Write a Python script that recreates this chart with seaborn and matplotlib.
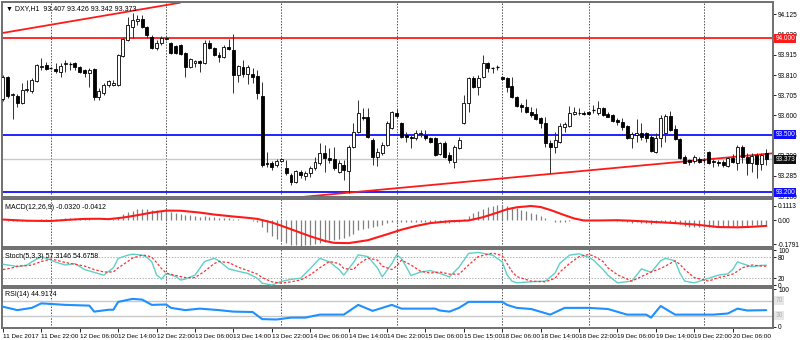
import matplotlib
matplotlib.use("Agg")
import matplotlib.pyplot as plt
from matplotlib.patches import Rectangle
import seaborn as sns

sns.set_theme(style="white")
plt.rcParams['font.family'] = ['Liberation Sans', 'DejaVu Sans']

# ---- DXY H1 candles (open, high, low, close) ----
opens = [93.685, 93.800, 93.706, 93.701, 93.664, 93.732, 93.727, 93.779, 93.852, 93.862,
         93.846, 93.841, 93.826, 93.867, 93.867, 93.872, 93.852, 93.836, 93.820, 93.841,
         93.696, 93.716, 93.758, 93.758, 93.758, 93.909, 93.992, 94.060, 94.091, 94.101,
         94.060, 94.008, 93.950, 93.976, 93.997, 93.976, 93.961, 93.966, 93.924, 93.852,
         93.872, 93.883, 93.872, 93.976, 93.950, 93.914, 93.904, 93.956, 93.940, 93.810,
         93.852, 93.815, 93.815, 93.805, 93.701, 93.350, 93.352, 93.342, 93.365, 93.326,
         93.290, 93.254, 93.306, 93.285, 93.300, 93.326, 93.352, 93.404, 93.378, 93.373,
         93.306, 93.342, 93.311, 93.436, 93.514, 93.592, 93.592, 93.472, 93.384, 93.404,
         93.446, 93.534, 93.612, 93.560, 93.498, 93.488, 93.482, 93.503, 93.498, 93.482,
         93.482, 93.399, 93.456, 93.394, 93.358, 93.430, 93.560, 93.664, 93.794, 93.748,
         93.800, 93.872, 93.846, 93.852, 93.800, 93.794, 93.753, 93.696, 93.654, 93.644,
         93.618, 93.607, 93.586, 93.560, 93.456, 93.436, 93.462, 93.540, 93.545, 93.607,
         93.612, 93.612, 93.618, 93.628, 93.612, 93.638, 93.607, 93.602, 93.576, 93.566,
         93.545, 93.482, 93.498, 93.508, 93.508, 93.488, 93.410, 93.482, 93.508, 93.597,
         93.529, 93.477, 93.384, 93.368, 93.363, 93.373, 93.368, 93.410, 93.363, 93.358,
         93.358, 93.337, 93.378, 93.352, 93.436, 93.384, 93.352, 93.394, 93.347, 93.407]
highs = [93.810, 93.805, 93.716, 93.711, 93.768, 93.784, 93.794, 93.867, 93.898, 93.878,
         93.852, 93.872, 93.872, 93.888, 93.878, 93.878, 93.857, 93.841, 93.846, 93.846,
         93.742, 93.768, 93.784, 93.784, 93.918, 94.000, 94.112, 94.132, 94.122, 94.122,
         94.065, 94.018, 93.992, 94.013, 94.008, 93.982, 93.966, 93.971, 93.930, 93.898,
         93.888, 93.888, 93.992, 93.992, 93.956, 93.930, 93.966, 93.997, 94.023, 93.862,
         93.888, 93.862, 93.846, 93.836, 93.774, 93.410, 93.363, 93.373, 93.378, 93.368,
         93.300, 93.316, 93.316, 93.311, 93.337, 93.384, 93.456, 93.446, 93.430, 93.436,
         93.368, 93.368, 93.446, 93.560, 93.680, 93.638, 93.638, 93.482, 93.430, 93.462,
         93.571, 93.623, 93.633, 93.566, 93.514, 93.498, 93.524, 93.524, 93.524, 93.488,
         93.488, 93.462, 93.467, 93.410, 93.446, 93.488, 93.706, 93.800, 93.805, 93.810,
         93.914, 93.878, 93.852, 93.862, 93.805, 93.800, 93.800, 93.701, 93.664, 93.685,
         93.644, 93.638, 93.592, 93.592, 93.472, 93.514, 93.560, 93.566, 93.649, 93.644,
         93.638, 93.623, 93.623, 93.654, 93.675, 93.644, 93.618, 93.607, 93.586, 93.586,
         93.550, 93.514, 93.581, 93.560, 93.514, 93.498, 93.508, 93.602, 93.607, 93.623,
         93.550, 93.482, 93.394, 93.373, 93.394, 93.384, 93.378, 93.415, 93.373, 93.368,
         93.368, 93.384, 93.399, 93.446, 93.446, 93.404, 93.404, 93.404, 93.404, 93.426]
lows = [93.675, 93.690, 93.581, 93.644, 93.659, 93.722, 93.716, 93.774, 93.836, 93.836,
        93.841, 93.820, 93.800, 93.826, 93.836, 93.836, 93.820, 93.800, 93.748, 93.680,
        93.680, 93.706, 93.748, 93.753, 93.753, 93.904, 93.988, 94.002, 94.070, 94.054,
        94.002, 93.946, 93.940, 93.966, 93.992, 93.920, 93.920, 93.914, 93.800, 93.846,
        93.852, 93.826, 93.867, 93.945, 93.909, 93.878, 93.898, 93.940, 93.716, 93.774,
        93.800, 93.763, 93.768, 93.685, 93.332, 93.332, 93.316, 93.332, 93.358, 93.290,
        93.238, 93.248, 93.274, 93.264, 93.280, 93.316, 93.342, 93.306, 93.352, 93.316,
        93.300, 93.264, 93.196, 93.430, 93.508, 93.576, 93.482, 93.342, 93.337, 93.394,
        93.441, 93.529, 93.586, 93.482, 93.462, 93.430, 93.472, 93.488, 93.472, 93.456,
        93.389, 93.394, 93.378, 93.352, 93.326, 93.425, 93.555, 93.618, 93.742, 93.706,
        93.794, 93.826, 93.820, 93.836, 93.784, 93.722, 93.690, 93.644, 93.618, 93.612,
        93.592, 93.576, 93.534, 93.436, 93.300, 93.404, 93.456, 93.514, 93.540, 93.602,
        93.602, 93.602, 93.602, 93.612, 93.602, 93.597, 93.590, 93.568, 93.550, 93.524,
        93.477, 93.430, 93.462, 93.472, 93.462, 93.410, 93.404, 93.436, 93.462, 93.519,
        93.472, 93.373, 93.350, 93.342, 93.352, 93.352, 93.352, 93.348, 93.332, 93.337,
        93.332, 93.332, 93.352, 93.316, 93.352, 93.290, 93.306, 93.274, 93.316, 93.342]
closes = [93.800, 93.701, 93.711, 93.664, 93.732, 93.737, 93.784, 93.862, 93.857, 93.841,
          93.845, 93.831, 93.857, 93.872, 93.866, 93.852, 93.826, 93.820, 93.836, 93.696,
          93.727, 93.758, 93.779, 93.768, 93.914, 93.997, 94.070, 94.096, 94.101, 94.060,
          94.018, 93.950, 93.976, 94.002, 94.000, 93.924, 93.925, 93.919, 93.852, 93.893,
          93.883, 93.872, 93.976, 93.950, 93.914, 93.904, 93.956, 93.945, 93.810, 93.857,
          93.815, 93.852, 93.800, 93.716, 93.342, 93.345, 93.332, 93.363, 93.371, 93.300,
          93.254, 93.311, 93.290, 93.300, 93.326, 93.358, 93.404, 93.378, 93.368, 93.326,
          93.352, 93.316, 93.436, 93.514, 93.612, 93.586, 93.488, 93.384, 93.410, 93.446,
          93.560, 93.618, 93.597, 93.488, 93.488, 93.482, 93.508, 93.508, 93.482, 93.462,
          93.394, 93.456, 93.384, 93.368, 93.436, 93.472, 93.664, 93.794, 93.748, 93.794,
          93.872, 93.846, 93.845, 93.853, 93.789, 93.748, 93.696, 93.649, 93.644, 93.618,
          93.602, 93.581, 93.560, 93.456, 93.436, 93.472, 93.545, 93.555, 93.612, 93.618,
          93.615, 93.607, 93.607, 93.627, 93.638, 93.602, 93.592, 93.571, 93.566, 93.540,
          93.482, 93.503, 93.508, 93.488, 93.482, 93.415, 93.482, 93.586, 93.597, 93.524,
          93.477, 93.378, 93.352, 93.358, 93.384, 93.358, 93.367, 93.352, 93.358, 93.352,
          93.342, 93.378, 93.358, 93.436, 93.384, 93.352, 93.389, 93.347, 93.394, 93.373]

# ---- MACD(12,26,9): histogram per bar, signal line ----
macd_hist = [0.000, -0.002, -0.004, -0.005, -0.004, -0.002, 0.002, 0.004, 0.008, 0.010,
             0.012, 0.012, 0.014, 0.016, 0.018, 0.018, 0.017, 0.015, 0.012, 0.006,
             0.003, 0.003, 0.005, 0.012, 0.030, 0.048, 0.062, 0.075, 0.084, 0.088,
             0.086, 0.082, 0.078, 0.074, 0.068, 0.062, 0.056, 0.050, 0.042, 0.038,
             0.034, 0.030, 0.032, 0.030, 0.026, 0.022, 0.022, 0.020, 0.010, 0.008,
             0.004, 0.002, -0.002, -0.010, -0.050, -0.085, -0.115, -0.140, -0.158, -0.172,
             -0.185, -0.190, -0.192, -0.190, -0.186, -0.180, -0.170, -0.160, -0.152, -0.146,
             -0.140, -0.134, -0.120, -0.100, -0.075, -0.062, -0.055, -0.052, -0.045, -0.035,
             -0.022, -0.010, -0.008, -0.010, -0.012, -0.012, -0.010, -0.008, -0.008, -0.010,
             -0.014, -0.014, -0.016, -0.018, -0.014, -0.010, 0.010, 0.035, 0.055, 0.072,
             0.090, 0.105, 0.112, 0.120, 0.118, 0.112, 0.102, 0.092, 0.082, 0.070,
             0.058, 0.046, 0.032, 0.016, 0.000, -0.008, -0.010, -0.008, -0.004, 0.000,
             0.002, 0.004, 0.004, 0.006, 0.006, 0.005, 0.003, 0.001, -0.002, -0.006,
             -0.012, -0.016, -0.015, -0.016, -0.018, -0.024, -0.022, -0.014, -0.010, -0.012,
             -0.018, -0.030, -0.040, -0.046, -0.048, -0.050, -0.050, -0.052, -0.052, -0.053,
             -0.053, -0.052, -0.050, -0.044, -0.042, -0.041, -0.038, -0.036, -0.033, -0.032]
signal_bar = [0, 5, 10, 14, 17, 20, 22, 25, 28, 31, 34, 37, 41, 44, 48, 51, 53, 56, 58, 61,
              64, 67, 69, 72, 76, 80, 83, 86, 89, 93, 97, 100, 103, 105, 107, 110, 112, 114,
              117, 119, 121, 124, 128, 131, 135, 140, 144, 149, 153, 156, 159]
signal_val = [0.007, -0.002, -0.004, 0.006, 0.012, 0.013, 0.010, 0.022, 0.040, 0.060,
              0.075, 0.074, 0.060, 0.045, 0.030, 0.020, 0.012, -0.015, -0.040, -0.080,
              -0.120, -0.155, -0.170, -0.172, -0.150, -0.105, -0.070, -0.042, -0.020, -0.006,
              0.000, 0.025, 0.060, 0.085, 0.100, 0.110, 0.102, 0.080, 0.040, 0.015,
              0.000, 0.000, 0.002, -0.002, -0.010, -0.020, -0.030, -0.050, -0.052, -0.048,
              -0.0412]

# ---- Stochastic(5,3,3) ----
stoch_bar = [0, 2, 3, 5, 6, 8, 10, 11, 13, 15, 17, 19, 21, 23, 24, 26, 27, 29, 30, 31,
             32, 33, 34, 36, 37, 38, 40, 42, 44, 45, 47, 49, 51, 53, 54, 56, 58, 60, 62,
             64, 66, 68, 70, 71, 73, 74, 76, 78, 79, 81, 82, 83, 85, 87, 89, 91, 93, 95,
             97, 99, 102, 104, 105, 106, 107, 110, 113, 115, 116, 118, 120, 122, 123, 125,
             126, 128, 131, 133, 135, 137, 138, 140, 141, 142, 144, 147, 149, 151, 152,
             153, 154, 156, 158, 159]
stoch_main = [60, 56, 53, 58, 67, 82, 72, 66, 58, 62, 45, 37, 29, 50, 77, 86, 89, 86, 80, 67,
              30, 18, 34, 25, 15, 18, 29, 68, 77, 70, 47, 40, 34, 20, 6, 1, 11, 17, 20,
              48, 77, 67, 45, 29, 65, 87, 82, 50, 24, 62, 87, 77, 28, 38, 42, 34, 24, 52,
              91, 94, 86, 67, 30, 12, 7, 10, 12, 35, 63, 86, 90, 80, 72, 45,
              29, 7, 12, 47, 37, 70, 77, 70, 35, 12, 7, 20, 29, 33, 45,
              67, 62, 53, 57, 57.3]
stoch_signal = [45, 50, 55, 56, 58, 68, 75, 72, 65, 60, 55, 45, 38, 38, 50, 68, 78, 86, 85, 80,
                65, 48, 35, 28, 25, 22, 22, 40, 62, 68, 65, 52, 42, 32, 22, 10, 6, 10, 15,
                30, 50, 68, 62, 48, 45, 60, 78, 72, 55, 45, 55, 72, 58, 40, 35, 38, 32, 32,
                58, 82, 92, 85, 62, 40, 25, 12, 10, 20, 38, 62, 82, 88, 84, 68,
                50, 30, 12, 25, 38, 48, 55, 70, 60, 45, 22, 12, 22, 28, 32,
                40, 50, 58, 55, 54.7]

# ---- RSI(14) ----
rsi_bar = [0, 3, 6, 8, 13, 18, 19, 22, 23, 24, 27, 29, 31, 34, 35, 38, 41, 45, 48, 52, 54,
           57, 60, 63, 66, 71, 74, 77, 81, 83, 90, 91, 93, 95, 97, 104, 105, 107, 110, 114,
           117, 122, 126, 130, 134, 135, 137, 140, 148, 151, 153, 155, 159]
rsi_val = [54, 45, 51, 63, 59, 57, 41, 46, 46, 67, 75, 73, 59, 60, 51, 45, 49, 45, 41, 40, 21,
           20, 25, 25, 33, 33, 59, 43, 59, 49, 49, 44, 41, 51, 67, 67, 59, 51, 48, 33,
           51, 51, 48, 33, 33, 25, 56, 33, 33, 36, 49, 44, 44.9]

# ---- axis text ----
time_labels = ["11 Dec 2017", "11 Dec 22:00", "12 Dec 06:00", "12 Dec 14:00", "12 Dec 22:00",
               "13 Dec 06:00", "13 Dec 14:00", "13 Dec 22:00", "14 Dec 06:00", "14 Dec 14:00",
               "14 Dec 22:00", "15 Dec 06:00", "15 Dec 15:00", "18 Dec 06:00", "18 Dec 14:00",
               "18 Dec 22:00", "19 Dec 06:00", "19 Dec 14:00", "19 Dec 22:00", "20 Dec 06:00"]
time_label_bars = list(range(0, 160, 8))
day_breaks = [10, 34, 58, 82, 104, 122, 146]
price_ticks = [94.125, 94.020, 93.915, 93.810, 93.705, 93.600, 93.495, 93.390, 93.285, 93.180]

# horizontal levels and trend lines
resistance = 94.000
support_levels = [93.500, 93.200]
bid = 93.373
upper_trend_bars = [-0.2, 36.9]
upper_trend_vals = [94.028, 94.186]
lower_trend_bars = [57.7, 160.4]
lower_trend_vals = [93.165, 93.403]

W, H = 800, 340
fig = plt.figure(figsize=(W / 100, H / 100), dpi=100, facecolor="white")


def box(x0, y0, x1, y1):
    return [x0 / W, 1 - y1 / H, (x1 - x0) / W, (y1 - y0) / H]


XL = (-0.2, 160.4)
FS = 4.7
frame = "#707070"
grid_kw = dict(color="#505050", lw=0.7, ls=(0, (1.5, 1.5)), zorder=1)


def style(ax):
    ax.set_xlim(*XL)
    ax.set_facecolor("white")
    for s in ax.spines.values():
        s.set_color(frame)
        s.set_linewidth(1.4)
    ax.yaxis.tick_right()
    ax.tick_params(axis="y", which="both", length=2.5, width=0.6, pad=1.2,
                   labelsize=FS, colors="black", right=True, left=False)
    ax.tick_params(axis="x", bottom=False, labelbottom=False)
    for b in day_breaks:
        ax.axvline(b, **grid_kw)


def flag(ax, y, text, fc, tc="white"):
    ax.text(1.003, y, text, transform=ax.get_yaxis_transform(), ha="left", va="center",
            fontsize=FS, color=tc, clip_on=False, zorder=20,
            bbox=dict(boxstyle="square,pad=0.15", fc=fc, ec="none"))


# ---------------- price panel ----------------
ax = fig.add_axes(box(2, 2, 773, 197))
style(ax)
ax.set_ylim(93.1756, 94.1896)
ax.set_yticks(price_ticks)
ax.set_yticklabels([f"{v:.3f}" for v in price_ticks])

ax.axhline(bid, color="#c8c8c8", lw=1.0, zorder=1)
ax.axhline(resistance, color="#ff1a1a", lw=1.3, zorder=2)
for lv in support_levels:
    ax.axhline(lv, color="#1010ff", lw=1.3, zorder=2)
ax.plot(upper_trend_bars, upper_trend_vals, color="#ff1a1a", lw=1.3, zorder=2)
ax.plot(lower_trend_bars, lower_trend_vals, color="#ff1a1a", lw=1.3, zorder=2)

bw = 0.62
for i, (o, h, l, c) in enumerate(zip(opens, highs, lows, closes)):
    ax.vlines(i, l, h, color="#303030", lw=0.7, zorder=3)
    lo, hi = min(o, c), max(o, c)
    if hi - lo < 0.0015:
        ax.hlines((o + c) / 2, i - bw / 2, i + bw / 2, color="black", lw=0.9, zorder=4)
    else:
        ax.add_patch(Rectangle((i - bw / 2, lo), bw, hi - lo,
                               facecolor="white" if c >= o else "black",
                               edgecolor="black", lw=0.6, zorder=4))

ax.text(0.005, 0.985, "\u25bc DXY,H1  93.407 93.426 93.342 93.373", transform=ax.transAxes,
        ha="left", va="top", fontsize=5, color="black", zorder=20)
flag(ax, resistance, "94.000", "#ff1a1a")
flag(ax, support_levels[0], "93.500", "#1010ff")
flag(ax, support_levels[1], "93.200", "#1010ff")
flag(ax, bid, "93.373", "#101010")

# ---------------- MACD panel ----------------
axm = fig.add_axes(box(2, 199, 773, 247))
style(axm)
axm.set_ylim(-0.2014, 0.163)
axm.set_yticks([0.1113, 0.0, -0.1791])
axm.set_yticklabels(["0.1113", "0.00", "-0.1791"])
axm.vlines(range(len(macd_hist)), 0, macd_hist, color="#808080", lw=0.9, zorder=2)
sns.lineplot(x=signal_bar, y=signal_val, ax=axm, color="#ff1a1a", lw=1.5, zorder=3,
             estimator=None)
axm.set_xlabel("")
axm.set_ylabel("")
axm.text(0.004, 0.9, "MACD(12,26,9) -0.0320 -0.0412", transform=axm.transAxes,
         ha="left", va="top", fontsize=5, color="black")

# ---------------- Stochastic panel ----------------
axs = fig.add_axes(box(2, 249, 773, 286))
style(axs)
axs.set_ylim(-2, 103.7)
axs.set_yticks([100, 80, 20, 0])
axs.set_yticklabels(["100", "80", "20", "0"])
for lv in (80, 20):
    axs.axhline(lv, color="#b0b0b0", lw=0.7, ls=(0, (1.5, 1.5)), zorder=1)
sns.lineplot(x=stoch_bar, y=stoch_main, ax=axs, color="#5fd0c8", lw=1.0, zorder=3,
             estimator=None)
sns.lineplot(x=stoch_bar, y=stoch_signal, ax=axs, color="#ff3030", lw=0.9, zorder=3,
             estimator=None, linestyle=(0, (2, 1.5)))
axs.set_xlabel("")
axs.set_ylabel("")
axs.text(0.004, 0.9, "Stoch(5,3,3) 57.3146 54.6758", transform=axs.transAxes,
         ha="left", va="top", fontsize=5, color="black", zorder=20)

# ---------------- RSI panel ----------------
axr = fig.add_axes(box(2, 288, 773, 328))
style(axr)
axr.set_ylim(-2.7, 104)
axr.set_yticks([100, 0])
axr.set_yticklabels(["100", "0"])
for lv in (70, 30):
    axr.axhline(lv, color="#c8c8c8", lw=1.0, zorder=1)
    flag(axr, lv, str(lv), "#e6e6e6", tc="#b0b0b0")
sns.lineplot(x=rsi_bar, y=rsi_val, ax=axr, color="#1e90ff", lw=1.5, zorder=3,
             estimator=None)
axr.set_xlabel("")
axr.set_ylabel("")
axr.text(0.004, 0.93, "RSI(14) 44.9174", transform=axr.transAxes,
         ha="left", va="top", fontsize=5, color="black", zorder=20)

axr.set_xticks(time_label_bars)
axr.set_xticklabels(time_labels, ha="left")
axr.tick_params(axis="x", bottom=True, labelbottom=True, length=3, width=0.6,
                pad=1.5, labelsize=4.6, colors="black")

fig.savefig("out.png", dpi=100, facecolor="white")
